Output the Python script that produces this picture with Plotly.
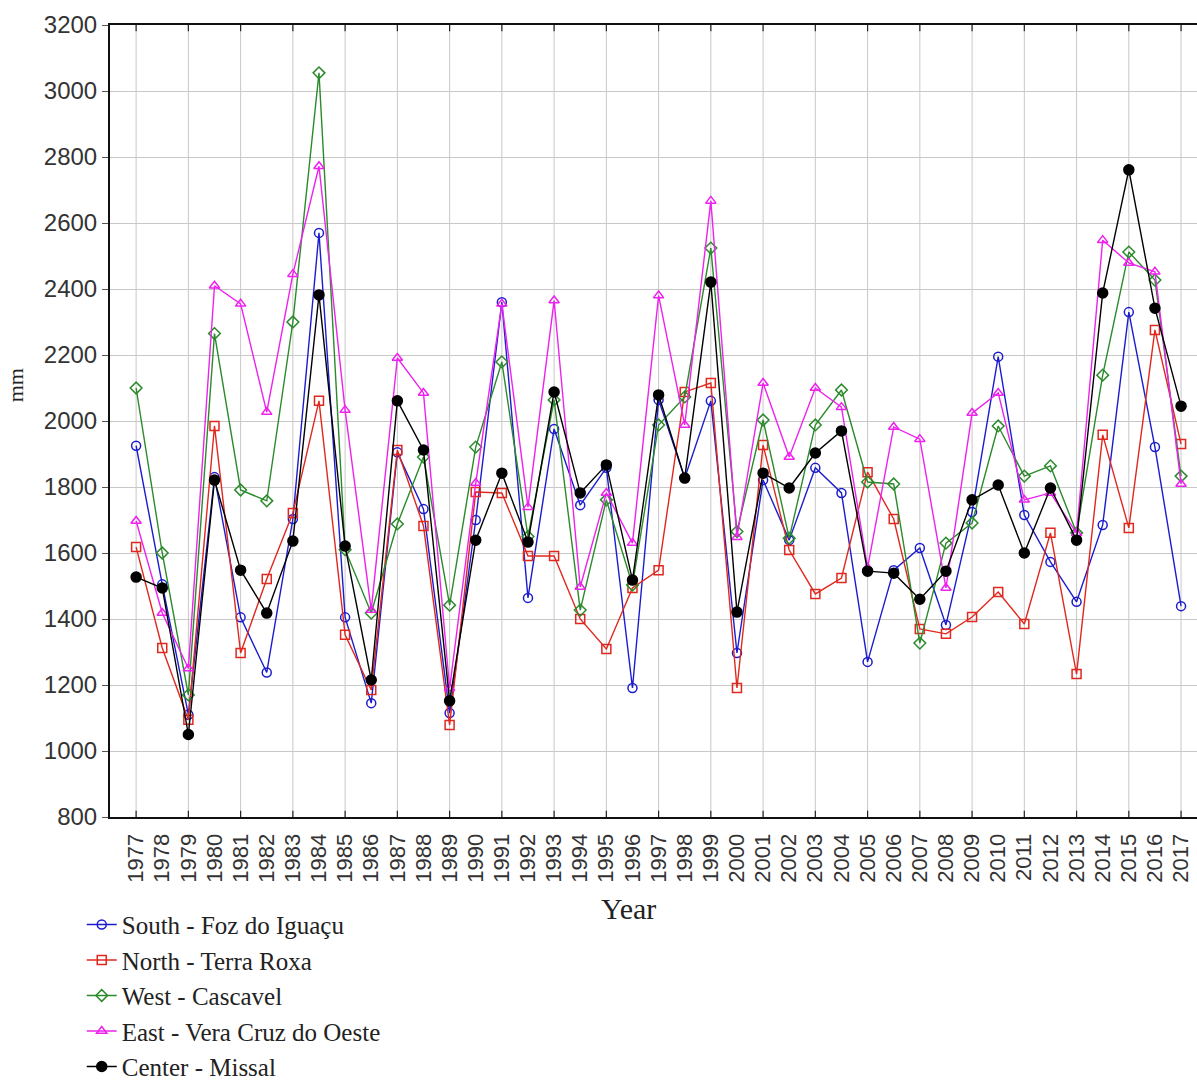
import plotly.graph_objects as go

years = list(range(1977, 2018))

south = [1925, 1505, 1110, 1830, 1405, 1238, 1703, 2570, 1405, 1145, 1905, 1733, 1115, 1700, 2360, 1464,
         1976, 1745, 1858, 1191, 2064, 1827, 2061, 1297, 1821, 1639, 1858, 1782, 1270, 1548, 1615, 1382,
         1724, 2195, 1715, 1573, 1452, 1685, 2330, 1921, 1439]
north = [1618, 1312, 1095, 1985, 1297, 1521, 1721, 2061, 1352, 1185, 1912, 1682, 1079, 1785, 1782, 1591,
         1591, 1400, 1309, 1494, 1548, 2088, 2115, 1191, 1927, 1609, 1476, 1524, 1845, 1703, 1370, 1355,
         1406, 1482, 1385, 1661, 1233, 1958, 1676, 2276, 1930]
west = [2100, 1600, 1170, 2265, 1791, 1758, 2300, 3055, 1610, 1418, 1688, 1891, 1442, 1921, 2179, 1650,
        2064, 1427, 1761, 1503, 1988, 2073, 2524, 1665, 2003, 1645, 1988, 2094, 1815, 1809, 1327, 1630,
        1691, 1985, 1833, 1864, 1661, 2139, 2512, 2427, 1833]
east = [1697, 1418, 1250, 2410, 2355, 2027, 2445, 2772, 2033, 1427, 2191, 2085, 1190, 1812, 2355, 1739,
        2365, 1497, 1782, 1630, 2380, 1988, 2667, 1648, 2115, 1891, 2100, 2042, 1555, 1982, 1945, 1494,
        2024, 2085, 1761, 1782, 1660, 2548, 2479, 2452, 1809]
center = [1527, 1494, 1050, 1821, 1548, 1418, 1636, 2382, 1621, 1215, 2061, 1912, 1152, 1639, 1842, 1633,
          2088, 1782, 1867, 1518, 2079, 1827, 2421, 1421, 1842, 1797, 1903, 1970, 1545, 1539, 1460, 1545,
          1761, 1806, 1600, 1797, 1639, 2388, 2761, 2342, 2045]

series_names = ["South - Foz do Iguaçu", "North - Terra Roxa", "West - Cascavel",
                "East - Vera Cruz do Oeste", "Center - Missal"]
y_ticks = list(range(800, 3201, 200))

series = [south, north, west, east, center]
colors = ["#1c1ccf", "#e0281e", "#2b8a2b", "#ee22ee", "#000000"]
symbols = ["circle-open", "square-open", "diamond-open", "triangle-up-open", "circle"]
sizes = [9, 9, 9, 9, 10]

fig = go.Figure()
for name, vals, c, s, sz in zip(series_names, series, colors, symbols, sizes):
    fig.add_trace(go.Scatter(
        x=years, y=vals, name=name, mode="lines+markers",
        line=dict(color=c, width=1.4),
        marker=dict(symbol=s, size=sz, color=c, line=dict(color=c, width=1.5)),
    ))

# vertical gridlines every two years (odd years) with inside tick marks
for yr in years[::2]:
    fig.add_shape(type="line", xref="x", yref="paper", x0=yr, x1=yr, y0=0, y1=1,
                  line=dict(color="#c8c8c8", width=1), layer="below")
    fig.add_shape(type="line", xref="x", yref="paper", x0=yr, x1=yr, y0=0, y1=0.008,
                  line=dict(color="#222", width=1.2))
    fig.add_shape(type="line", xref="x", yref="paper", x0=yr, x1=yr, y0=0.992, y1=1,
                  line=dict(color="#222", width=1.2))

fig.update_layout(
    width=1197, height=1084,
    margin=dict(l=110, r=0, t=25, b=267, autoexpand=False),
    plot_bgcolor="white", paper_bgcolor="white",
    showlegend=True,
    legend=dict(x=-0.026, y=-0.107, xanchor="left", yanchor="top",
                font=dict(family="Liberation Serif", size=25, color="#222"),
                bgcolor="rgba(0,0,0,0)", tracegroupgap=0, itemwidth=30),
    xaxis=dict(range=[1976, 2017.61], tickmode="array", tickvals=years,
               ticktext=[str(y) for y in years], tickangle=-90,
               tickfont=dict(family="Liberation Sans", size=22, color="#333"),
               ticklabelstandoff=6, automargin=False,
               showgrid=False, zeroline=False, ticks="",
               showline=True, linecolor="#111", linewidth=2, mirror=True),
    yaxis=dict(range=[800, 3200], tickmode="array", tickvals=y_ticks,
               tickfont=dict(family="Liberation Sans", size=24, color="#333"),
               automargin=False,
               showgrid=True, gridcolor="#c8c8c8", gridwidth=1, zeroline=False,
               ticks="outside", ticklen=6, tickcolor="#555",
               showline=True, linecolor="#111", linewidth=2, mirror=False),
    annotations=[
        dict(text="Year", xref="paper", yref="paper", x=0.4766, y=-0.1149,
             xanchor="center", yanchor="middle", showarrow=False,
             font=dict(family="Liberation Serif", size=30, color="#222")),
        dict(text="mm", xref="paper", yref="paper", x=-0.0874, y=0.545,
             xanchor="center", yanchor="middle", showarrow=False, textangle=-90,
             font=dict(family="Liberation Serif", size=22, color="#222")),
    ],
)

fig.write_html("out.html")
